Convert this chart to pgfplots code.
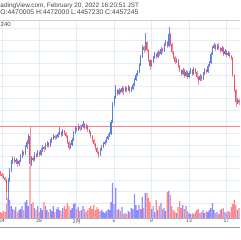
\documentclass[border=0pt]{standalone}
\usepackage{fontspec}
\setmainfont{Liberation Sans}
\newfontfamily\cjk{Noto Sans CJK JP}
\usepackage{pgfplots}
\usepackage{pgfplotstable}
\pgfplotsset{compat=1.18}

\definecolor{upbody}{RGB}{76,134,204}
\definecolor{upwick}{RGB}{128,128,255}
\definecolor{dnbody}{RGB}{240,80,96}
\definecolor{dnwick}{RGB}{250,140,150}
\definecolor{volup}{RGB}{140,140,255}
\definecolor{voldn}{RGB}{255,140,140}
\definecolor{gridc}{RGB}{228,236,246}
\definecolor{txt}{RGB}{70,70,70}
\definecolor{hline}{RGB}{250,130,130}
\definecolor{sepc}{RGB}{205,205,210}
\definecolor{axc}{RGB}{175,175,180}
\definecolor{botc}{RGB}{150,150,150}

% x = candle index (4h candles, 0 = Jan 24 00:00), o h l c = price (chart units), v = volume
\pgfplotstableread{
x o h l c v
-1 68 69 64 66 6
0 66 67 62 64 5
1 64 66 61 62 7
2 62 63 58 60 6
3 60 61 40 48 14
4 48 62 37 60 20
5 60 72 58 70 18
6 70 80 68 78 12
7 78 84 76 82 9
8 82 83 76 78 8
9 78 82 76 80 11
10 80 81 73 76 6
11 76 80 74 79 8
12 79 86 78 84 9
13 84 90 82 88 12
14 88 89 84 86 8
15 86 95 85 93 16
16 93 100 91 98 18
17 98 106 96 104 12
18 104 113 74 76 52
19 76 84 74 82 14
20 82 84 78 80 16
21 80 88 79 86 10
22 86 87 82 84 8
23 84 90 83 88 12
24 88 89 83 85 6
25 85 92 84 90 10
26 90 95 88 93 8
27 93 94 88 91 16
28 91 97 90 95 12
29 95 99 93 97 8
30 97 98 92 94 6
31 94 101 93 99 9
32 99 103 97 101 7
33 101 106 100 104 12
34 104 105 100 102 6
35 102 105 101 103 9
36 103 108 102 106 11
37 106 113 105 108 8
38 108 109 103 105 7
39 105 111 104 109 10
40 109 110 105 107 12
41 107 108 102 104 9
42 104 105 96 98 15
43 98 99 90 92 12
44 92 97 91 95 8
45 95 102 94 100 10
46 100 109 99 107 14
47 107 114 106 112 15
48 112 113 108 110 9
49 110 116 109 114 11
50 114 115 109 111 7
51 111 115 110 113 8
52 113 119 112 116 12
53 116 117 110 112 9
54 112 116 111 114 6
55 114 115 108 110 8
56 110 111 106 108 10
57 108 109 102 104 12
58 104 105 98 100 9
59 100 101 94 96 13
60 96 97 90 92 8
61 92 93 86 88 11
62 88 89 82 85 9
63 85 92 84 90 7
64 90 95 89 93 8
65 93 98 92 96 6
66 96 100 95 98 5
67 98 103 97 101 7
68 101 106 100 104 9
69 104 108 103 106 8
70 106 120 105 118 16
71 118 138 117 136 35
72 136 144 134 142 14
73 142 155 141 150 30
74 150 151 144 146 8
75 146 152 145 150 9
76 150 151 146 148 7
77 148 154 147 152 11
78 152 153 145 149 4
79 149 154 148 152 5
80 152 153 148 150 4
81 150 155 149 153 7
82 153 154 147 149 6
83 149 153 148 151 10
84 151 157 150 155 9
85 155 162 154 160 24
86 160 167 159 165 13
87 165 170 164 168 8
88 168 177 167 175 13
89 175 185 174 183 9
90 183 195 182 193 21
91 193 194 187 190 10
92 190 207 189 198 25
93 198 199 188 190 25
94 190 191 178 180 20
95 180 181 170 174 16
96 174 180 173 178 9
97 178 184 177 182 12
98 182 188 181 186 6
99 186 187 181 183 18
100 183 190 182 188 8
101 188 189 184 186 12
102 186 193 185 191 15
103 191 192 187 189 9
104 189 197 188 195 10
105 195 200 194 198 7
106 198 199 192 194 26
107 194 213 193 206 27
108 206 207 194 196 23
109 196 197 186 188 12
110 188 189 181 183 8
111 183 184 176 178 6
112 178 182 177 180 5
113 180 181 172 174 11
114 174 175 168 170 17
115 170 171 164 166 10
116 166 172 165 170 13
117 170 171 162 164 9
118 164 170 163 168 12
119 168 169 161 163 7
120 163 169 162 167 5
121 167 172 166 170 4
122 170 171 164 166 5
123 166 173 165 171 4
124 171 172 166 168 6
125 168 169 161 163 8
126 163 164 155 160 9
127 160 166 159 164 5
128 164 165 159 161 6
129 161 168 160 166 8
130 166 172 165 170 5
131 170 171 166 168 7
132 168 176 167 174 6
133 174 179 173 177 8
134 177 188 176 186 10
135 186 194 185 192 15
136 192 197 191 195 8
137 195 196 189 191 5
138 191 196 190 194 6
139 194 197 190 192 4
140 192 193 187 189 8
141 189 194 188 192 9
142 192 193 184 186 10
143 186 191 185 189 6
144 189 190 183 185 5
145 185 189 184 187 7
146 187 188 182 184 6
147 184 185 180 182 11
148 182 183 163 165 14
149 165 166 148 150 18
150 150 151 133 138 13
151 138 142 136 140 8
152 140 141 135 137 10
}\candles

\pgfplotsset{
  candle/.style 2 args={forget plot, draw=none, mark=none,
    error bars/.cd, y dir=plus, y explicit, error mark=none,
    error bar style={draw=#1, line width=#2}},
}

\begin{document}
\begin{tikzpicture}
\useasboundingbox (0,0) rectangle (240pt,240pt);

% volume pane with grid and time axis
\begin{axis}[
  at={(0pt,22pt)}, anchor=south west, scale only axis,
  width=240pt, height=197pt,
  xmin=-1.154, xmax=152.69, ymin=0, ymax=197,
  axis line style={draw=none},
  tick style={draw=none},
  xtick={0,24,48,72,96,120,144},
  xticklabels={24,28,{\cjk 2月},5,9,13,17},
  ytick={3,14.67,...,190},
  yticklabels={},
  xmajorgrids, ymajorgrids,
  grid style={gridc, line width=0.5pt},
  xticklabel style={font=\fontsize{5}{6}\selectfont, text=txt, inner sep=1pt},
]
\addplot[ybar, bar width=0.8, bar shift=0pt, fill=volup, draw=none, forget plot]
  table[x=x, y expr={\thisrow{c}>=\thisrow{o} ? \thisrow{v} : nan}] {\candles};
\addplot[ybar, bar width=0.8, bar shift=0pt, fill=voldn, draw=none, forget plot]
  table[x=x, y expr={\thisrow{c}<\thisrow{o} ? \thisrow{v} : nan}] {\candles};
\end{axis}

% price pane
\begin{axis}[
  at={(0pt,22pt)}, anchor=south west, scale only axis,
  width=240pt, height=197pt,
  xmin=-1.154, xmax=152.69, ymin=22, ymax=219,
  hide axis,
]
\addplot[hline, line width=0.6pt, forget plot] coordinates {(-2,114) (154,114)};
% wicks
\addplot[candle={upwick}{0.45pt}]
  table[x=x, y expr={\thisrow{c}>=\thisrow{o} ? \thisrow{l} : nan},
        y error expr={\thisrow{h}-\thisrow{l}}] {\candles};
\addplot[candle={dnwick}{0.45pt}]
  table[x=x, y expr={\thisrow{c}<\thisrow{o} ? \thisrow{l} : nan},
        y error expr={\thisrow{h}-\thisrow{l}}] {\candles};
% bodies
\addplot[candle={upbody}{1.05pt}]
  table[x=x, y expr={\thisrow{c}>=\thisrow{o} ? \thisrow{o} : nan},
        y error expr={\thisrow{c}-\thisrow{o}}] {\candles};
\addplot[candle={dnbody}{1.05pt}]
  table[x=x, y expr={\thisrow{c}<\thisrow{o} ? \thisrow{c} : nan},
        y error expr={\thisrow{o}-\thisrow{c}}] {\candles};
\end{axis}

% frame lines
\draw[sepc, line width=0.6pt] (0,219.5pt) -- (240pt,219.5pt);
\draw[axc, line width=0.6pt] (0,22pt) -- (240pt,22pt);
\draw[botc, line width=0.7pt] (0,13pt) -- (240pt,13pt);

% header texts
\node[anchor=base west, inner sep=0, text=txt, font=\fontsize{6.4}{7}\selectfont] at (0.3pt,232.8pt)
  {adingView.com, February 20, 2022 16:20:51 JST};
\node[anchor=base west, inner sep=0, text=txt, font=\fontsize{6.8}{7}\selectfont] at (0.3pt,225pt)
  {O:4470005 H:4472000 L:4457230 C:4457245};
\node[anchor=base west, inner sep=0, text=txt, font=\fontsize{6}{7}\selectfont] at (0.5pt,213pt)
  {240};
\end{tikzpicture}
\end{document}
